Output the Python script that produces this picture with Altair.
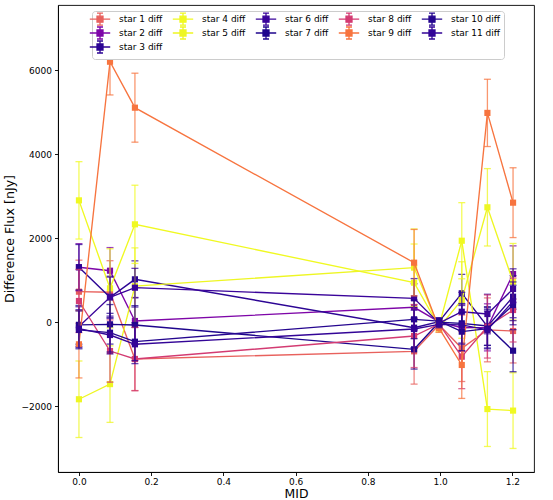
import altair as alt
import pandas as pd

mid = [0.0, 0.086, 0.155, 0.928, 0.997, 1.06, 1.131, 1.202]

stars = ["star 1 diff", "star 2 diff", "star 3 diff", "star 4 diff", "star 5 diff",
         "star 6 diff", "star 7 diff", "star 8 diff", "star 9 diff", "star 10 diff",
         "star 11 diff"]
colors = ["#e8615d", "#7e06a8", "#2c0594", "#f0f921", "#eef623",
          "#3a049a", "#1f068d", "#d33b72", "#f7743f", "#25068f", "#330597"]

flux = {
    "star 1 diff": [728, 715, -873, -690, -60, -618, -180, -207],
    "star 2 diff": [1310, 1227, 31, 357, 10, -130, -120, 1148],
    "star 3 diff": [1310, 595, 1022, -128, 15, 690, -100, 609],
    "star 4 diff": [2900, 808, 2330, 942, -100, 1940, -2063, -2100],
    "star 5 diff": [-1830, -1470, 860, 1300, -130, 530, 2735, 965],
    "star 6 diff": [-100, 595, 823, 570, -20, 252, 197, 792],
    "star 7 diff": [-60, -48, -64, -642, 0, -24, -88, -675],
    "star 8 diff": [507, -683, -873, -326, -40, -818, -100, 292],
    "star 9 diff": [-523, 6197, 5104, 1418, -140, -1015, 4980, 2845],
    "star 10 diff": [-180, -247, -461, 71, 30, -223, -150, 411],
    "star 11 diff": [-150, -302, -523, -160, -50, -60, -180, 500],
}
err = {
    "star 1 diff": [750, 750, 750, 780, 90, 790, 760, 760],
    "star 2 diff": [560, 550, 560, 560, 90, 560, 560, 670],
    "star 3 diff": [540, 500, 440, 480, 80, 450, 450, 500],
    "star 4 diff": [920, 940, 930, 920, 100, 905, 890, 900],
    "star 5 diff": [910, 910, 910, 920, 100, 910, 920, 910],
    "star 6 diff": [470, 480, 460, 470, 80, 460, 470, 480],
    "star 7 diff": [460, 470, 460, 470, 80, 470, 460, 500],
    "star 8 diff": [750, 740, 754, 750, 90, 760, 750, 760],
    "star 9 diff": [800, 790, 820, 790, 100, 795, 800, 830],
    "star 10 diff": [450, 460, 450, 460, 80, 450, 460, 470],
    "star 11 diff": [450, 450, 460, 450, 80, 460, 450, 460],
}

# legend order (row-major) mimicking matplotlib's column-major ncol=5 layout
legend_order = ["star 1 diff", "star 4 diff", "star 6 diff", "star 8 diff", "star 10 diff",
                "star 2 diff", "star 5 diff", "star 7 diff", "star 9 diff", "star 11 diff",
                "star 3 diff"]

rows = []
for s in stars:
    for m, f, e in zip(mid, flux[s], err[s]):
        rows.append({"star": s, "mid": m, "flux": f, "lo": f - e, "hi": f + e})
df = pd.DataFrame(rows)

x_scale = alt.Scale(domain=[-0.058, 1.26], nice=False, zero=False)
y_scale = alt.Scale(domain=[-3560, 7546], nice=False, zero=False)
x_axis = alt.Axis(values=[0.0, 0.2, 0.4, 0.6, 0.8, 1.0, 1.2], format=".1f", title="MID")
y_axis = alt.Axis(values=[-2000, 0, 2000, 4000, 6000], format="d", title="Difference Flux [nJy]")


def X(field):
    return alt.X(f"{field}:Q", scale=x_scale, axis=x_axis, title="MID")


def Y(field):
    return alt.Y(f"{field}:Q", scale=y_scale, axis=y_axis, title="Difference Flux [nJy]")


base = alt.Chart(df)
layers = []
for s, c in zip(stars, colors):
    sub = base.transform_filter(alt.datum.star == s)
    bars = sub.mark_rule(color=c, strokeWidth=1.3, opacity=0.75).encode(
        x=X("mid"), y=Y("lo"), y2=alt.Y2("hi:Q"))
    cap_lo = sub.mark_rule(color=c, strokeWidth=1.3, opacity=0.75, xOffset=-3.5, x2Offset=3.5).encode(
        x=X("mid"), x2=alt.X2("mid:Q"), y=Y("lo"))
    cap_hi = sub.mark_rule(color=c, strokeWidth=1.3, opacity=0.75, xOffset=-3.5, x2Offset=3.5).encode(
        x=X("mid"), x2=alt.X2("mid:Q"), y=Y("hi"))
    line = sub.mark_line(color=c, strokeWidth=1.35).encode(x=X("mid"), y=Y("flux"))
    pts = sub.mark_square(color=c, size=38, opacity=1).encode(x=X("mid"), y=Y("flux"))
    layers += [bars, cap_lo, cap_hi, line, pts]

# symbol drawn at r = sqrt(64)/2 = 4 px per unit
sym_path = "M-2.55,0H2.55M-0.75,-0.75H0.75V0.75H-0.75ZM0,-1.5V1.5M-0.75,-1.5H0.75M-0.75,1.5H0.75"
color_map = dict(zip(stars, colors))
leg_scale = alt.Scale(domain=legend_order, range=[color_map[s] for s in legend_order])
legend = alt.Legend(title=None, orient="none", legendX=34, legendY=6, columns=5,
                    direction="horizontal", gridAlign="all",
                    symbolType=sym_path, symbolSize=64, symbolStrokeWidth=1.3,
                    labelFont="DejaVu Sans", labelFontSize=9, labelColor="black",
                    labelOffset=14, columnPadding=1, rowPadding=-7.4, padding=3,
                    fillColor="white", strokeColor="#cccccc", cornerRadius=3, labelLimit=200)
leg_layer = base.transform_filter(alt.datum.mid < -100).mark_point(
    filled=True, shape=sym_path, opacity=1).encode(
    x=X("mid"), y=Y("flux"),
    fill=alt.Fill("star:N", scale=leg_scale, legend=legend),
    stroke=alt.Stroke("star:N", scale=leg_scale, legend=legend))
layers.append(leg_layer)

chart = alt.layer(*layers).properties(
    width=476, height=467,
    autosize=alt.AutoSizeParams(type="none"),
    padding={"left": 58, "top": 5, "right": 19, "bottom": 28},
    background="white",
).configure_view(stroke="black", strokeWidth=0.9).configure_axis(
    grid=False, domainColor="black", domainWidth=0.9, tickColor="black",
    tickSize=3.5, tickWidth=0.9, labelFont="DejaVu Sans", labelFontSize=9,
    labelColor="black", labelPadding=3, titleFont="DejaVu Sans", titleFontSize=12.6,
    titleFontWeight="normal", titleColor="black",
).configure_axisY(titlePadding=5).configure_axisX(titlePadding=1, labelPadding=2, titleFontSize=12.4)

chart.save("out.html", embed_options={"renderer": "svg", "actions": False})
